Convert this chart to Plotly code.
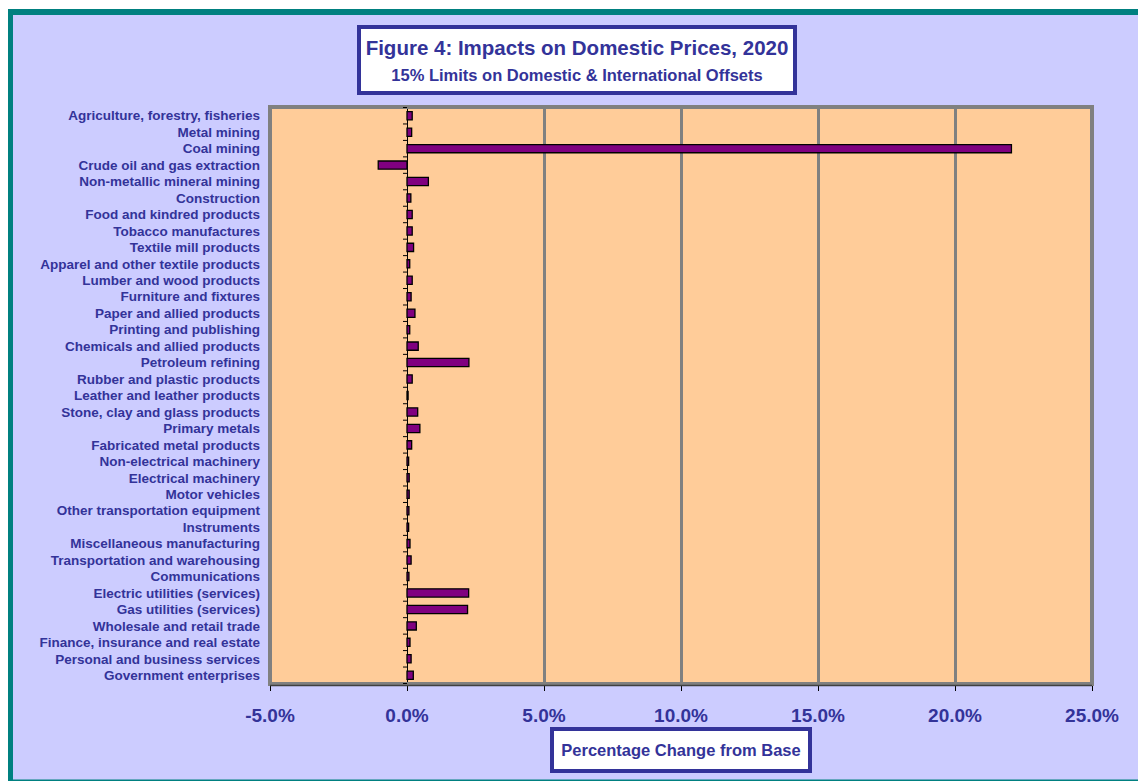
import plotly.graph_objects as go

categories = [
    "Agriculture, forestry, fisheries", "Metal mining", "Coal mining",
    "Crude oil and gas extraction", "Non-metallic mineral mining", "Construction",
    "Food and kindred products", "Tobacco manufactures", "Textile mill products",
    "Apparel and other textile products", "Lumber and wood products",
    "Furniture and fixtures", "Paper and allied products", "Printing and publishing",
    "Chemicals and allied products", "Petroleum refining", "Rubber and plastic products",
    "Leather and leather products", "Stone, clay and glass products", "Primary metals",
    "Fabricated metal products", "Non-electrical machinery", "Electrical machinery",
    "Motor vehicles", "Other transportation equipment", "Instruments",
    "Miscellaneous manufacturing", "Transportation and warehousing", "Communications",
    "Electric utilities (services)", "Gas utilities (services)", "Wholesale and retail trade",
    "Finance, insurance and real estate", "Personal and business services",
    "Government enterprises",
]
price_change_pct = [
    0.19, 0.17, 22.06, -1.05, 0.78, 0.14, 0.19, 0.19, 0.24, 0.10,
    0.19, 0.15, 0.29, 0.10, 0.41, 2.26, 0.19, 0.04, 0.39, 0.47,
    0.17, 0.06, 0.08, 0.08, 0.07, 0.06, 0.11, 0.15, 0.07, 2.25,
    2.21, 0.34, 0.11, 0.15, 0.23,
]
x_ticks = [-5, 0, 5, 10, 15, 20, 25]
x_tick_labels = ["-5.0%", "0.0%", "5.0%", "10.0%", "15.0%", "20.0%", "25.0%"]

W, H = 1138, 781
L, R, T, B = 270, 46, 107, 97
PW, PH = W - L - R, H - T - B
FONT = "Liberation Sans, Arial, sans-serif"
NAVY = "#333399"
TEAL = "#008080"


def px(xp):
    return (xp - L) / PW


def py(yp):
    return (H - B - yp) / PH


fig = go.Figure(go.Bar(
    x=price_change_pct, y=categories, orientation="h",
    marker=dict(color="#800080", line=dict(color="black", width=1.3)),
    hoverinfo="x+y",
))

shapes = []
# white strips outside the chart frame
shapes.append(dict(type="rect", xref="paper", yref="paper", x0=px(-5), x1=px(8),
                   y0=py(-5), y1=py(H + 5), fillcolor="white", line_width=0, layer="below"))
shapes.append(dict(type="rect", xref="paper", yref="paper", x0=px(-5), x1=px(W + 5),
                   y0=py(-5), y1=py(9), fillcolor="white", line_width=0, layer="below"))
# teal frame lines (left, top, bottom)
shapes.append(dict(type="line", xref="paper", yref="paper", x0=px(10.5), x1=px(10.5),
                   y0=py(9), y1=py(H + 5), line=dict(color=TEAL, width=5), layer="below"))
shapes.append(dict(type="line", xref="paper", yref="paper", x0=px(8), x1=px(W),
                   y0=py(12), y1=py(12), line=dict(color=TEAL, width=6), layer="below"))
shapes.append(dict(type="line", xref="paper", yref="paper", x0=px(8), x1=px(W),
                   y0=py(780.5), y1=py(780.5), line=dict(color=TEAL, width=2), layer="below"))
# plot area border
shapes.append(dict(type="rect", xref="paper", yref="paper", x0=0, x1=1, y0=0, y1=1,
                   line=dict(color="#808080", width=4), layer="above"))
shapes.append(dict(type="line", xref="paper", yref="paper", x0=0, x1=1, y0=py(H - B + 1.5), y1=py(H - B + 1.5),
                   line=dict(color="#404040", width=1.5), layer="above"))
# small tick marks on the zero axis at category boundaries
for i in range(len(categories) + 1):
    shapes.append(dict(type="line", xref="x", yref="y", xsizemode="pixel", xanchor=0,
                       x0=-4, x1=0, y0=i - 0.5, y1=i - 0.5,
                       line=dict(color="black", width=1), layer="above"))

annotations = [
    dict(xref="paper", yref="paper", x=px(577), y=py(60), xanchor="center", yanchor="middle",
         text="<b>Figure 4: Impacts on Domestic Prices, 2020</b><br>"
              "<span style='font-size:16.5px'><b>15% Limits on Domestic &amp; International Offsets</b></span>",
         showarrow=False, font=dict(family=FONT, size=20.5, color=NAVY),
         bgcolor="white", bordercolor=NAVY, borderwidth=4, borderpad=3,
         width=426, height=56),
    dict(xref="paper", yref="paper", x=px(681), y=py(750), xanchor="center", yanchor="middle",
         text="<b>Percentage Change from Base</b>", showarrow=False,
         font=dict(family=FONT, size=16.5, color=NAVY),
         bgcolor="white", bordercolor=NAVY, borderwidth=4, borderpad=3,
         width=248, height=32),
]

fig.update_layout(
    width=W, height=H,
    margin=dict(l=L, r=R, t=T, b=B, pad=0),
    paper_bgcolor="#CCCCFF",
    plot_bgcolor="#FFCC99",
    showlegend=False,
    bargap=0.5,
    shapes=shapes,
    annotations=annotations,
    font=dict(family=FONT, color=NAVY),
)
fig.update_xaxes(
    range=[-5, 25], tickvals=x_ticks, ticktext=x_tick_labels,
    showgrid=True, gridcolor="#808080", gridwidth=2.5,
    zeroline=True, zerolinecolor="black", zerolinewidth=1,
    ticks="outside", ticklen=6, tickcolor="black", tickwidth=1,
    ticklabelstandoff=8,
    tickfont=dict(family=FONT, size=19, color=NAVY, weight="bold"),
    showline=False, fixedrange=True,
)
fig.update_yaxes(
    autorange="reversed", showgrid=False, zeroline=False, ticks="",
    ticklabelstandoff=9,
    tickfont=dict(family=FONT, size=13.5, color=NAVY, weight="bold"),
    showline=False, fixedrange=True,
)

fig.write_html("out.html", config={"displayModeBar": False})
